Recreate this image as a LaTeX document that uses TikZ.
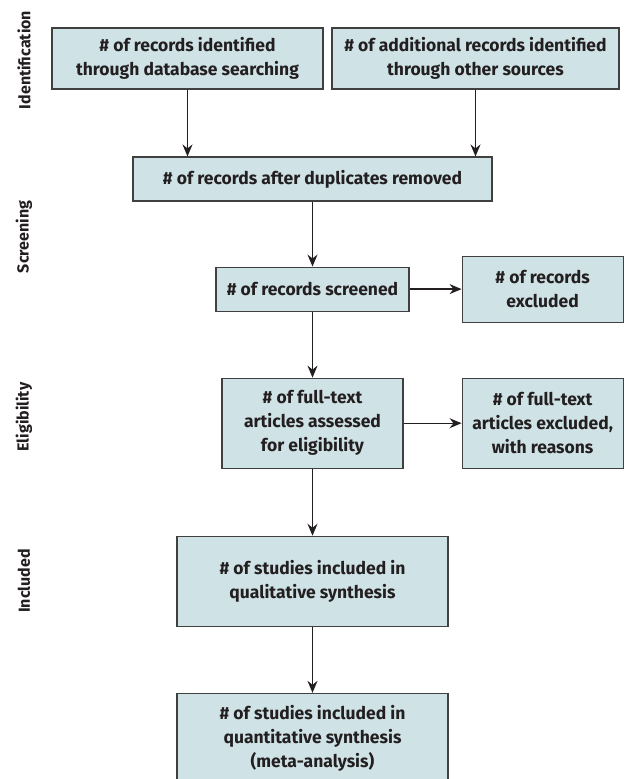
\documentclass[tikz,border=0pt]{standalone}
\usepackage{fontspec}
\setmainfont{Fira Sans}
\usepackage{xcolor}
\usepackage{tikz}
\usetikzlibrary{positioning}
\usetikzlibrary{arrows.meta}

\definecolor{boxfill}{RGB}{207,226,229}
\definecolor{boxline}{RGB}{64,64,64}
\definecolor{txt}{RGB}{35,31,32}

\tikzset{
    flowbox/.style={draw=boxline, line width=1.1pt, fill=boxfill, rectangle, align=center,
        text=txt, font=\fontsize{17.5}{24}\selectfont\bfseries, inner sep=2pt},
    phase/.style={rotate=90, text=txt, font=\fontsize{16}{18}\selectfont\bfseries},
    flowarrow/.style={-{Stealth[length=12pt, width=10pt, inset=4pt]}, line width=1.3pt, draw=txt}
}

\begin{document}
\begin{tikzpicture}[x=1pt, y=-1pt, node distance=65pt]
        \useasboundingbox (0,0) rectangle (624,779);
        % phases on the left
        \node[phase] (ident) at (24,60) {Identification};
        \node[phase] (scr) at (24,237) {Screening};
        \node[phase] (elig) at (24,417) {Eligibility};
        \node[phase] (incl) at (24,581) {Included};
        % boxes
        \node[flowbox, minimum width=271pt, minimum height=61pt] (db) at (187.5,58.5) {\# of records identified\\through database searching};
        \node[flowbox, minimum width=287pt, minimum height=61pt] (other) at (475.5,58.5) {\# of additional records identified\\through other sources};
        \node[flowbox, minimum width=359pt, minimum height=44pt] (dup) at (312.5,179) {\# of records after duplicates removed};
        \node[flowbox, minimum width=193pt, minimum height=44pt, below=65pt of dup] (screen) {\# of records screened};
        \node[flowbox, minimum width=161pt, minimum height=66pt, right=52pt of screen] (excl) {\# of records\\excluded};
        \node[flowbox, minimum width=181pt, minimum height=90pt, below=66pt of screen] (full) {\# of full-text\\articles assessed\\for eligibility};
        \node[flowbox, minimum width=161pt, minimum height=90pt] (fullex) at (excl |- full) {\# of full-text\\articles excluded,\\with reasons};
        \node[flowbox, minimum width=271pt, minimum height=90pt, below=67pt of full] (qual) {\# of studies included in\\qualitative synthesis};
        \node[flowbox, minimum width=271pt, minimum height=89pt, below=66pt of qual] (quant) {\# of studies included in\\quantitative synthesis\\(meta-analysis)};
        % arrows
        \draw[flowarrow] (db.south) -- (db.south |- dup.north);
        \draw[flowarrow] (other.south) -- (other.south |- dup.north);
        \draw[flowarrow] (dup) -- (screen);
        \draw[flowarrow] (screen) -- (excl);
        \draw[flowarrow] (screen) -- (full);
        \draw[flowarrow] (full) -- (fullex);
        \draw[flowarrow] (full) -- (qual);
        \draw[flowarrow] (qual) -- (quant);
    \end{tikzpicture}
\end{document}
